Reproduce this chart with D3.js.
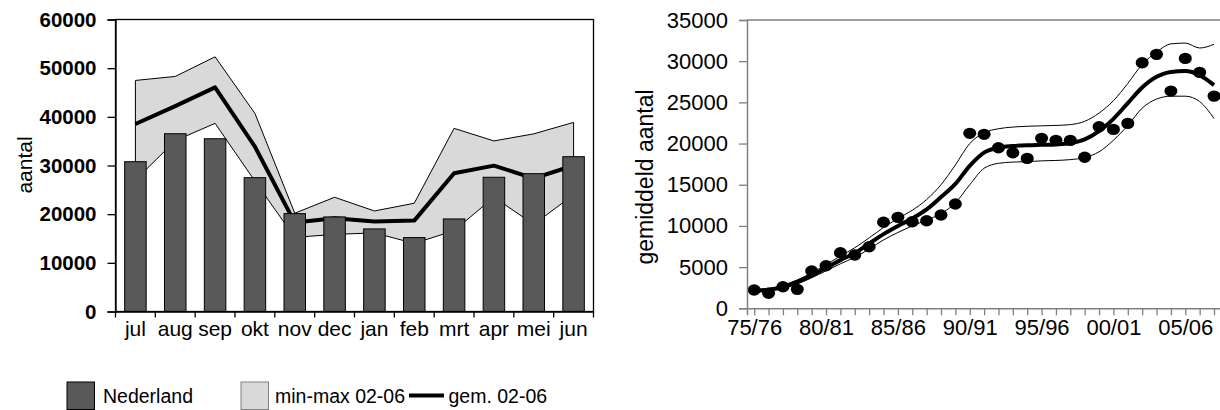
<!DOCTYPE html>
<html>
<head>
<meta charset="utf-8">
<script src="https://cdn.jsdelivr.net/npm/d3@7"></script>
<style>
  html, body { margin: 0; padding: 0; background: #fff; }
  svg { display: block; font-family: "Liberation Sans", Arial, sans-serif; }
</style>
</head>
<body>
<svg id="chart" width="1220" height="410"></svg>
<script>
// ---------- Left chart data ----------
const months = ["jul","aug","sep","okt","nov","dec","jan","feb","mrt","apr","mei","jun"];
const nederland = [30780, 36530, 35500, 27500, 20110, 19430, 16970, 15190, 19020, 27580, 28320, 31810];
const minVals   = [27000, 35100, 38660, 26800, 15230, 15850, 16150, 14000, 16600, 23500, 17900, 24000];
const maxVals   = [47480, 48300, 52330, 40710, 20190, 23470, 20660, 22240, 37630, 35050, 36500, 38860];
const meanVals  = [38520, 42190, 46050, 33870, 18270, 19160, 18470, 18680, 28400, 29970, 27370, 30000];
const leftTicks = [0, 10000, 20000, 30000, 40000, 50000, 60000];

// ---------- Right chart data ----------
const seasons = ["75/76","76/77","77/78","78/79","79/80","80/81","81/82","82/83","83/84","84/85",
  "85/86","86/87","87/88","88/89","89/90","90/91","91/92","92/93","93/94","94/95",
  "95/96","96/97","97/98","98/99","99/00","00/01","01/02","02/03","03/04","04/05",
  "05/06","06/07","07/08"];
const observed = [2220, 1820, 2620, 2300, 4530, 5170, 6750, 6470, 7480, 10440,
  11040, 10510, 10630, 11320, 12660, 21240, 21120, 19490, 18890, 18200,
  20630, 20390, 20390, 18330, 22040, 21720, 22450, 29810, 30830, 26370,
  30340, 28640, 25760];
const trend = [2150, 2250, 2600, 3200, 4000, 4900, 5850, 6700, 7850, 9000,
  10000, 10900, 12000, 13500, 15100, 17300, 18900, 19500, 19700, 19800,
  19850, 19900, 20050, 20500, 21500, 23000, 24900, 26800, 28100, 28700,
  28800, 28300, 27100];
const upper = [2300, 2400, 2800, 3450, 4300, 5300, 6350, 7350, 8550, 9800,
  10900, 11900, 13200, 15000, 17400, 20000, 21300, 21800, 22000, 22100,
  22150, 22200, 22300, 22700, 23700, 25200, 27300, 29600, 31100, 32100,
  32200, 31600, 32050];
const lower = [2050, 2100, 2400, 2950, 3700, 4550, 5400, 6200, 7200, 8300,
  9200, 10000, 10700, 11500, 12800, 15000, 17000, 17600, 17750, 17800,
  17900, 17950, 18050, 18300, 19000, 20400, 22200, 24300, 25400, 25750,
  25750, 25100, 23050];
const rightTicks = [0, 5000, 10000, 15000, 20000, 25000, 30000, 35000];
const labeledSeasons = ["75/76","80/81","85/86","90/91","95/96","00/01","05/06"];

const legendItems = ["Nederland", "min-max 02-06", "gem. 02-06"];

const svg = d3.select("#chart");

// ================= LEFT CHART =================
const L = { left: 115.5, right: 593.5, top: 19.5, bottom: 311.5 };
const xL = d3.scaleBand().domain(months).range([L.left, L.right]).paddingInner(0.46).paddingOuter(0.23);
const yL = d3.scaleLinear().domain([0, 60000]).range([L.bottom, L.top]);
const cx = m => xL(m) + xL.bandwidth() / 2;

const gL = svg.append("g");

// min-max area
const areaData = months.map((m, i) => ({ m, lo: minVals[i], hi: maxVals[i] }));
gL.append("path")
  .datum(areaData)
  .attr("d", d3.area().x(d => cx(d.m)).y0(d => yL(d.lo)).y1(d => yL(d.hi)))
  .attr("fill", "#d9d9d9").attr("stroke", "#000").attr("stroke-width", 1);

// mean line
gL.append("path")
  .datum(months.map((m, i) => ({ m, v: meanVals[i] })))
  .attr("d", d3.line().x(d => cx(d.m)).y(d => yL(d.v)))
  .attr("fill", "none").attr("stroke", "#000").attr("stroke-width", 4).attr("stroke-linejoin", "round");

// bars
gL.selectAll("rect.bar").data(months.map((m, i) => ({ m, v: nederland[i] }))).join("rect")
  .attr("class", "bar")
  .attr("x", d => xL(d.m)).attr("width", xL.bandwidth())
  .attr("y", d => yL(d.v)).attr("height", d => yL(0) - yL(d.v))
  .attr("fill", "#595959").attr("stroke", "#000").attr("stroke-width", 1);

// frame
gL.append("rect").attr("x", L.left).attr("y", L.top)
  .attr("width", L.right - L.left).attr("height", L.bottom - L.top)
  .attr("fill", "none").attr("stroke", "#000").attr("stroke-width", 1.3);

// y axis
const yAxL = gL.append("g").attr("transform", `translate(${L.left},0)`)
  .call(d3.axisLeft(yL).tickValues(leftTicks).tickSize(8).tickPadding(11).tickFormat(d3.format("d")));
yAxL.select(".domain").attr("stroke", "#000").attr("stroke-width", 1.3);
yAxL.selectAll(".tick line").attr("stroke", "#000").attr("stroke-width", 1.3);
yAxL.selectAll(".tick text").attr("font-size", 20.5).attr("font-weight", "bold")
  .attr("font-family", "Liberation Sans, Arial, sans-serif").attr("fill", "#000");

// x axis (labels) + boundary ticks
const xAxL = gL.append("g").attr("transform", `translate(0,${L.bottom})`)
  .call(d3.axisBottom(xL).tickSize(0).tickPadding(10));
xAxL.select(".domain").attr("stroke", "#000").attr("stroke-width", 1.3);
xAxL.selectAll(".tick text").attr("font-size", 21)
  .attr("font-family", "Liberation Sans, Arial, sans-serif").attr("fill", "#000");
const bounds = months.map(m => xL(m) - xL.step() * xL.paddingInner() / 2).concat([L.right]);
gL.selectAll("line.bt").data(bounds).join("line")
  .attr("x1", d => d).attr("x2", d => d).attr("y1", L.bottom).attr("y2", L.bottom + 6)
  .attr("stroke", "#000").attr("stroke-width", 1.3);

// y title
gL.append("text").attr("transform", `translate(32,165) rotate(-90)`)
  .attr("text-anchor", "middle").attr("font-size", 21).text("aantal");

// legend
const lg = svg.append("g");
lg.append("rect").attr("x", 67).attr("y", 382).attr("width", 27.5).attr("height", 27.5)
  .attr("fill", "#595959").attr("stroke", "#000").attr("stroke-width", 1);
lg.append("text").attr("x", 103).attr("y", 403).attr("font-size", 19.5).text(legendItems[0]);
lg.append("rect").attr("x", 241).attr("y", 382).attr("width", 27.5).attr("height", 27.5)
  .attr("fill", "#d9d9d9").attr("stroke", "#808080").attr("stroke-width", 1);
lg.append("text").attr("x", 275).attr("y", 403).attr("font-size", 19.5).text(legendItems[1]);
lg.append("line").attr("x1", 409).attr("x2", 444).attr("y1", 395.5).attr("y2", 395.5)
  .attr("stroke", "#000").attr("stroke-width", 4);
lg.append("text").attr("x", 448.5).attr("y", 403).attr("font-size", 19.5).text(legendItems[2]);

// ================= RIGHT CHART =================
const R = { left: 747, right: 1221.2, top: 20, bottom: 308.3 };
const xR = d3.scaleLinear().domain([-0.5, 32.5]).range([R.left, R.right]);
const yR = d3.scaleLinear().domain([0, 35000]).range([R.bottom, R.top]);
const gR = svg.append("g");

const curve = d3.curveMonotoneX;
const mkLine = arr => d3.line().curve(curve).x((d, i) => xR(i)).y(d => yR(d))(arr);

gR.append("path").attr("d", mkLine(upper)).attr("fill", "none").attr("stroke", "#000").attr("stroke-width", 1);
gR.append("path").attr("d", mkLine(lower)).attr("fill", "none").attr("stroke", "#000").attr("stroke-width", 1);
gR.append("path").attr("d", mkLine(trend)).attr("fill", "none").attr("stroke", "#000").attr("stroke-width", 4);

gR.selectAll("ellipse.dot").data(observed).join("ellipse")
  .attr("class", "dot")
  .attr("cx", (d, i) => xR(i)).attr("cy", d => yR(d))
  .attr("rx", 6.5).attr("ry", 5.7).attr("fill", "#000");

// top border
gR.append("line").attr("x1", R.left).attr("x2", 1220).attr("y1", R.top).attr("y2", R.top)
  .attr("stroke", "#808080").attr("stroke-width", 1.5);

// y axis
const yAxR = gR.append("g").attr("transform", `translate(${R.left},0)`)
  .call(d3.axisLeft(yR).tickValues(rightTicks).tickSize(8).tickPadding(11).tickFormat(d3.format("d")));
yAxR.select(".domain").attr("stroke", "#808080").attr("stroke-width", 1.5);
yAxR.selectAll(".tick line").attr("stroke", "#808080").attr("stroke-width", 1.3);
yAxR.selectAll(".tick text").attr("font-size", 22)
  .attr("font-family", "Liberation Sans, Arial, sans-serif").attr("fill", "#000");

// x axis
const xAxR = gR.append("g").attr("transform", `translate(0,${R.bottom})`)
  .call(d3.axisBottom(xR).tickValues(d3.range(seasons.length)).tickSize(7).tickPadding(4)
    .tickFormat(i => labeledSeasons.includes(seasons[i]) ? seasons[i] : ""));
xAxR.select(".domain").attr("stroke", "#808080").attr("stroke-width", 1.5);
xAxR.selectAll(".tick line").attr("stroke", "#808080").attr("stroke-width", 1.3);
xAxR.selectAll(".tick text").attr("font-size", 22)
  .attr("font-family", "Liberation Sans, Arial, sans-serif").attr("fill", "#000");

gR.append("text").attr("transform", `translate(653,177) rotate(-90)`)
  .attr("text-anchor", "middle").attr("font-size", 23).text("gemiddeld aantal");
</script>
</body>
</html>
